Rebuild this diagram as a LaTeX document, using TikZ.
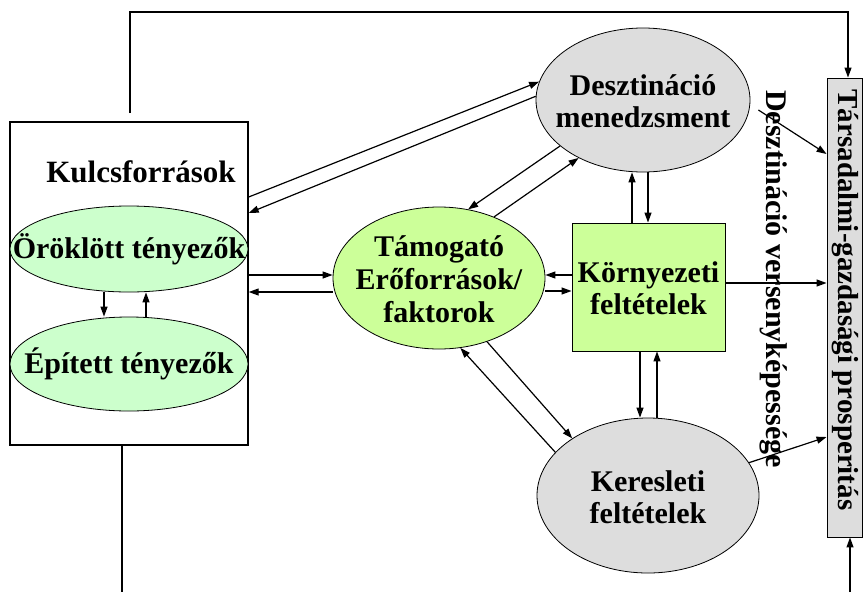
\documentclass[tikz,border=0pt]{standalone}
\usepackage{fontspec}
\setmainfont{Liberation Serif}
\usetikzlibrary{arrows.meta,shapes.geometric,calc}
\definecolor{lgreen}{HTML}{CCFFCC}
\definecolor{ygreen}{HTML}{CCFF99}
\definecolor{lgray}{HTML}{DDDDDD}
\begin{document}
\begin{tikzpicture}[x=1pt,y=-1pt,
  txt/.style={font=\bfseries\fontsize{30}{32}\selectfont, align=center, inner sep=0pt},
  ell/.style={ellipse, draw, line width=0.8pt, inner sep=0pt},
  boxn/.style={rectangle, draw, line width=0.9pt, inner sep=0pt},
  arr/.style={line width=1.2pt, -{Triangle[length=10pt,width=7pt]}},
  ln/.style={line width=1.2pt}]
\useasboundingbox (0,0) rectangle (864,592);

% shapes
\node[boxn, line width=1.4pt, minimum width=238, minimum height=323] (kulcs) at (129,283.5) {};
\node[ell, fill=lgreen, minimum width=238, minimum height=86] (orok) at (129,249) {};
\node[ell, fill=lgreen, minimum width=238, minimum height=94] (epit) at (129,364) {};
\node[ell, fill=ygreen, minimum width=212, minimum height=142] (tam) at (439,278) {};
\node[ell, fill=lgray, minimum width=214, minimum height=144] (desz) at (643,100) {};
\node[boxn, fill=ygreen, minimum width=153, minimum height=128] (korny) at (648.5,287) {};
\node[ell, fill=lgray, minimum width=222, minimum height=155] (keres) at (648,495.5) {};
\node[boxn, fill=lgray, minimum width=35, minimum height=459] (tars) at (844.5,307.5) {};

% texts
\node[txt, font=\bfseries\fontsize{31}{33}\selectfont] (kulcsT) at (141,172) {Kulcsforrások};
\node[txt] (orokT) at (orok.center) {Öröklött tényezők};
\node[txt] (epitT) at (epit.center) {Épített tényezők};
\node[txt, font=\bfseries\fontsize{30}{33}\selectfont] (tamT) at (439,279) {Támogató\\Erőforrások/\\faktorok};
\node[txt] (deszT) at (643,101) {Desztináció\\menedzsment};
\node[txt] (kornyT) at (648.5,288) {Környezeti\\feltételek};
\node[txt] (keresT) at (648,497) {Keresleti\\feltételek};
\node[txt, font=\bfseries\fontsize{29}{31}\selectfont, rotate=-90] (tarsT) at (845,300) {Társadalmi-gazdasági prosperitás};
\node[txt, rotate=-90] (vers) at (774,279) {Desztináció versenyképessége};

% outer loop
\coordinate (topstart) at (130,113);
\coordinate (topR) at (848,12);
\draw[arr] (topstart) |- (topR) -- (tars.north -| topR);
\coordinate (botL) at (122,592);
\draw[ln] (kulcs.south -| botL) -- (botL);
\coordinate (botR) at (850,592);
\draw[arr] (botR) -- (tars.south -| botR);

% inside Kulcsforrasok
\draw[arr] (orok.south -| 104,0) -- (epit.north -| 104,0);
\draw[arr] (epit.north -| 146,0) -- (orok.south -| 146,0);

% Kulcs <-> Tamogato
\draw[arr] (kulcs.east |- 0,275) -- (tam.west |- 0,275);
\draw[arr] (tam.west |- 0,292) -- (kulcs.east |- 0,292);

% Kulcs <-> Desztinacio
\draw[arr] (kulcs.east |- 0,197) -- (desz.170);
\draw[arr] (desz.178) -- (kulcs.east |- 0,213);

% Desz <-> Tamogato
\draw[arr] (desz.209) -- (tam.67);
\draw[arr] (tam.48) -- (desz.222);

% Desz <-> Kornyezeti
\draw[arr] (korny.north -| 632,0) -- (desz.south -| 632,0);
\draw[arr] (desz.south -| 648,0) -- (korny.north -| 648,0);

% Tamogato <-> Kornyezeti
\draw[arr] (korny.west |- 0,275) -- (tam.east |- 0,275);
\draw[arr] (tam.east |- 0,291) -- (korny.west |- 0,291);

% Kornyezeti <-> Keresleti
\draw[arr] (korny.south -| 640,0) -- (keres.north -| 640,0);
\draw[arr] (keres.north -| 657,0) -- (korny.south -| 657,0);

% Tamogato <-> Keresleti
\draw[arr] (tam.-53) -- (keres.143);
\draw[arr] (keres.155) -- (tam.-73);

% to Tarsadalmi
\draw[arr] (korny.east |- 0,283) -- (tars.west |- 0,283);
\draw[arr] ([shift={(8,10)}]desz.east) -- (tars.west |- 0,154);
\draw[arr] (keres.18) -- (tars.west |- 0,437);
\end{tikzpicture}
\end{document}
